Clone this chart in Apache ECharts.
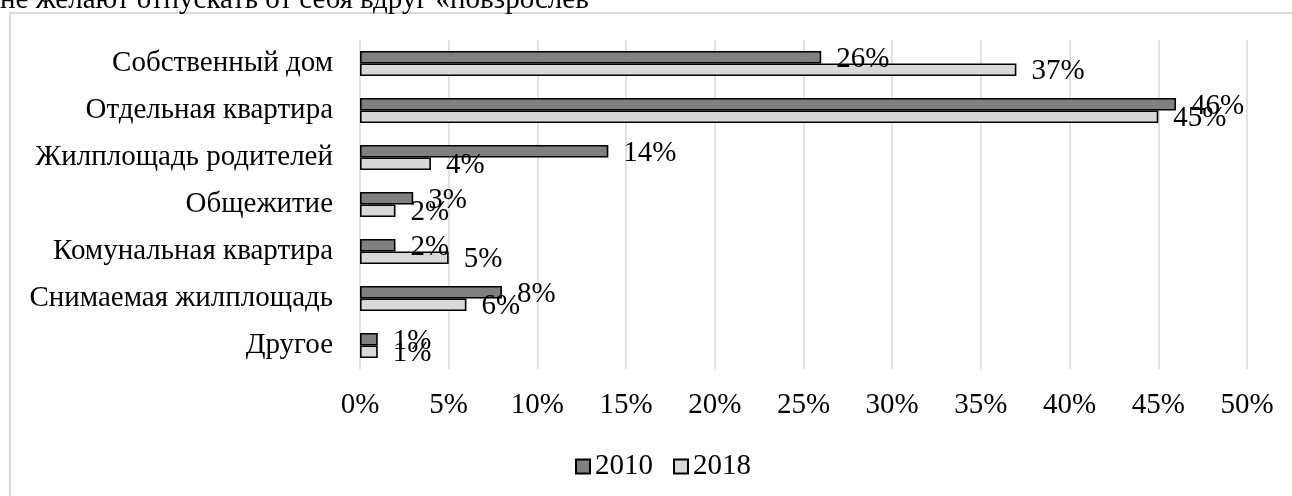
<!DOCTYPE html>
<html>
<head>
<meta charset="utf-8">
<script src="https://cdn.jsdelivr.net/npm/echarts@6/dist/echarts.min.js"></script>
<style>
  html, body { margin: 0; padding: 0; background: #fff; }
  #chart { width: 1292px; height: 496px; }
</style>
</head>
<body>
<div id="chart"></div>
<script>
const categories = ['Собственный дом', 'Отдельная квартира', 'Жилплощадь родителей', 'Общежитие', 'Комунальная квартира', 'Снимаемая жилплощадь', 'Другое'];
const values2010 = [26, 46, 14, 3, 2, 8, 1];
const values2018 = [37, 45, 4, 2, 5, 6, 1];
const seriesNames = ['2010', '2018'];
const xTicks = { min: 0, max: 50, interval: 5 };
const headText = 'не желают отпускать от себя вдруг «повзрослев';

const FONT = "'Liberation Serif', 'Times New Roman', serif";
const FS = 29;

const chart = echarts.init(document.getElementById('chart'), null, { renderer: 'canvas' });

function barSeries(name, data, color) {
  return {
    name: name,
    type: 'bar',
    data: data,
    barWidth: 12.5,
    barGap: '0%',
    itemStyle: { color: color, borderColor: '#000', borderWidth: 1.6 },
    label: {
      show: true,
      position: 'right',
      distance: 15,
      offset: [0, 2],
      formatter: '{c}%',
      color: '#000',
      fontFamily: FONT,
      fontSize: FS
    },
    animation: false
  };
}

chart.setOption({
  animation: false,
  backgroundColor: '#fff',
  textStyle: { fontFamily: FONT },
  graphic: [
    {
      type: 'rect',
      shape: { x: 10, y: 13, width: 1300, height: 500 },
      style: { fill: 'none', stroke: '#d9d9d9', lineWidth: 2 },
      silent: true,
      z: -10
    },
    {
      type: 'text',
      x: 0,
      y: 15,
      style: {
        text: headText,
        font: FS + 'px ' + FONT,
        fill: '#000',
        verticalAlign: 'bottom'
      },
      silent: true
    }
  ],
  legend: {
    data: seriesNames,
    icon: 'rect',
    left: 570,
    top: 447,
    itemWidth: 14,
    itemHeight: 14,
    itemGap: 20,
    textStyle: { fontFamily: FONT, fontSize: FS, color: '#000' }
  },
  grid: { left: 360, right: 45, top: 40, bottom: 127, containLabel: false },
  xAxis: {
    type: 'value',
    min: xTicks.min,
    max: xTicks.max,
    interval: xTicks.interval,
    axisLine: { show: false },
    axisTick: { show: false },
    splitLine: { show: true, lineStyle: { color: '#d9d9d9', width: 1.5 } },
    axisLabel: {
      formatter: '{value}%',
      color: '#000',
      fontFamily: FONT,
      fontSize: FS,
      margin: 22
    }
  },
  yAxis: {
    type: 'category',
    data: categories,
    inverse: true,
    axisLine: { show: false },
    axisTick: { show: false },
    axisLabel: {
      color: '#000',
      fontFamily: FONT,
      fontSize: FS,
      margin: 27
    }
  },
  series: [
    barSeries(seriesNames[0], values2010, '#808080'),
    barSeries(seriesNames[1], values2018, '#d9d9d9')
  ]
});
</script>
</body>
</html>
